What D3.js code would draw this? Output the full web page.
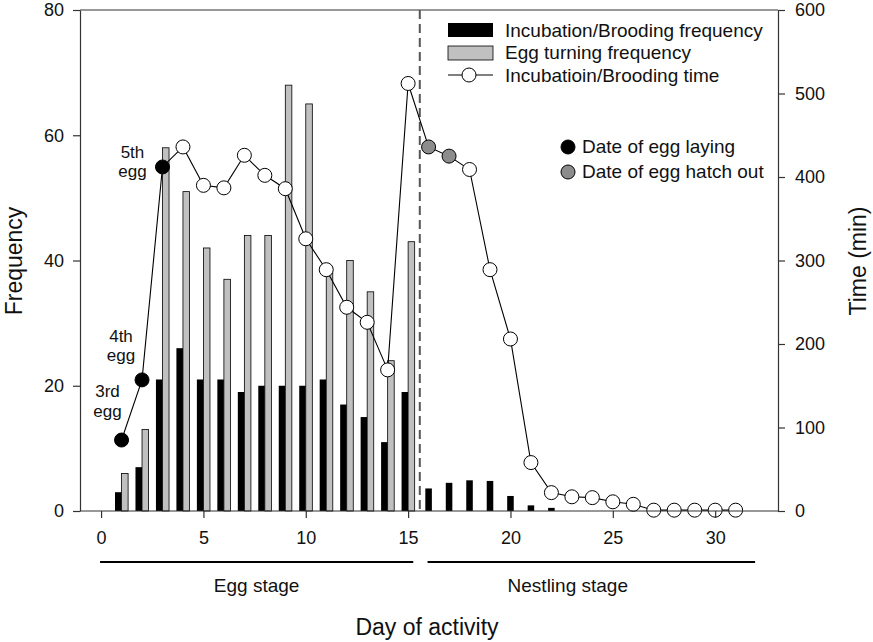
<!DOCTYPE html>
<html>
<head>
<meta charset="utf-8">
<script src="https://cdn.jsdelivr.net/npm/d3@7"></script>
<style>
  body { margin: 0; background: #fff; }
  text { font-family: "Liberation Sans", Arial, sans-serif; fill: #111; }
</style>
</head>
<body>
<svg id="chart" width="873" height="642"></svg>
<script>
// ---- Data ----
const days = [1,2,3,4,5,6,7,8,9,10,11,12,13,14,15,16,17,18,19,20,21,22,23,24,25,26,27,28,29,30,31];
const incubDays = [1,2,3,4,5,6,7,8,9,10,11,12,13,14,15,16,17,18,19,20,21,22];
const incubFreq = [3,7,21,26,21,21,19,20,20,20,21,17,15,11,19,3.6,4.5,4.9,4.8,2.4,0.9,0.5];
const turnDays = [1,2,3,4,5,6,7,8,9,10,11,12,13,14,15];
const turnFreq = [6,13,58,51,42,37,44,44,68,65,38,40,35,24,43];
const timeMin = [85,157,412,436,390,387,426,402,386,326,289,244,226,169,512,436,425,409,289,206,58,22,17,16,11,8,1,1,1,1,1];
const layingDays = [1,2,3];
const hatchDays = [16,17];
const xTicks = [0,5,10,15,20,25,30];
const yLeftTicks = [0,20,40,60,80];
const yRightTicks = [0,100,200,300,400,500,600];
const stageBoundary = 15.57;
const stages = [
  {label: "Egg stage", from: -0.05, to: 15.25, labelAt: 7.6},
  {label: "Nestling stage", from: 15.95, to: 31.95, labelAt: 22.8}
];
const eggNotes = [
  {day: 3, lines: ["5th", "egg"]},
  {day: 2, lines: ["4th", "egg"]},
  {day: 1, lines: ["3rd", "egg"]}
];

// ---- Layout ----
const svg = d3.select("#chart");
const L = 80, R = 778, T = 10, B = 511;
const x = d3.scaleLinear().domain([-1.03, 33.07]).range([L, R]);
const yL = d3.scaleLinear().domain([0, 80]).range([B, T]);
const yR = d3.scaleLinear().domain([0, 600]).range([B, T]);
const axisColor = "#333";
const barW = 0.32;

// frame top
svg.append("line").attr("x1", L).attr("x2", R).attr("y1", T).attr("y2", T)
  .attr("stroke", axisColor).attr("stroke-width", 1.2);

// bars
const turnSet = new Set(turnDays);
svg.append("g").selectAll("rect").data(incubDays.map((d, i) => ({d, v: incubFreq[i]})))
  .join("rect")
  .attr("x", p => turnSet.has(p.d) ? x(p.d - barW) : x(p.d - barW / 2))
  .attr("width", x(barW) - x(0))
  .attr("y", p => yL(p.v))
  .attr("height", p => B - yL(p.v))
  .attr("fill", "#000");

svg.append("g").selectAll("rect").data(turnDays.map((d, i) => ({d, v: turnFreq[i]})))
  .join("rect")
  .attr("x", p => x(p.d))
  .attr("width", x(barW) - x(0))
  .attr("y", p => yL(p.v))
  .attr("height", p => B - yL(p.v))
  .attr("fill", "#c0c0c0")
  .attr("stroke", "#000").attr("stroke-width", 0.8);

// dashed boundary
svg.append("line").attr("x1", x(stageBoundary)).attr("x2", x(stageBoundary))
  .attr("y1", T).attr("y2", B)
  .attr("stroke", "#555").attr("stroke-width", 2).attr("stroke-dasharray", "9,5");

// time line
const pts = days.map((d, i) => ({d, v: timeMin[i]}));
svg.append("path").datum(pts)
  .attr("d", d3.line().x(p => x(p.d)).y(p => yR(p.v)))
  .attr("fill", "none").attr("stroke", "#000").attr("stroke-width", 1.1);

const laySet = new Set(layingDays), hatchSet = new Set(hatchDays);
svg.append("g").selectAll("circle").data(pts).join("circle")
  .attr("cx", p => x(p.d)).attr("cy", p => yR(p.v)).attr("r", 7)
  .attr("fill", p => laySet.has(p.d) ? "#000" : hatchSet.has(p.d) ? "#8c8c8c" : "#fff")
  .attr("stroke", "#000").attr("stroke-width", 1);

// axes
const fs = 18;
const xAxis = svg.append("g").attr("transform", `translate(0,${B})`)
  .call(d3.axisBottom(x).tickValues(xTicks).tickSize(7).tickPadding(13).tickSizeOuter(0));
const yAxisL = svg.append("g").attr("transform", `translate(${L},0)`)
  .call(d3.axisLeft(yL).tickValues(yLeftTicks).tickSize(7).tickPadding(9).tickSizeOuter(0));
const yAxisR = svg.append("g").attr("transform", `translate(${R},0)`)
  .call(d3.axisRight(yR).tickValues(yRightTicks).tickSize(7).tickPadding(10).tickSizeOuter(0));
[xAxis, yAxisL, yAxisR].forEach(g => {
  g.select(".domain").attr("stroke", axisColor).attr("stroke-width", 1.2);
  g.selectAll(".tick line").attr("stroke", axisColor).attr("stroke-width", 1.2);
  g.selectAll(".tick text").attr("font-size", fs)
    .attr("font-family", '"Liberation Sans", Arial, sans-serif').attr("fill", "#111");
});
xAxis.select(".domain").attr("d", `M${L},0H${R}`);

// stage lines
stages.forEach(s => {
  svg.append("line").attr("x1", x(s.from)).attr("x2", x(s.to)).attr("y1", 562).attr("y2", 562)
    .attr("stroke", "#000").attr("stroke-width", 2.2);
  svg.append("text").attr("x", x(s.labelAt)).attr("y", 592)
    .attr("text-anchor", "middle").attr("font-size", 19).text(s.label);
});

// axis titles
svg.append("text").attr("x", 427).attr("y", 635).attr("text-anchor", "middle")
  .attr("font-size", 23).text("Day of activity");
svg.append("text").attr("transform", `translate(22,261) rotate(-90)`).attr("text-anchor", "middle")
  .attr("font-size", 23).text("Frequency");
svg.append("text").attr("transform", `translate(866,261) rotate(-90)`).attr("text-anchor", "middle")
  .attr("font-size", 23).text("Time (min)");

// egg annotations (each line its own text element)
const noteOffsets = {1: [-14, -43], 2: [-21, -38], 3: [-30, -9]};
eggNotes.forEach(n => {
  const v = timeMin[days.indexOf(n.day)];
  const [dx, dy] = noteOffsets[n.day];
  n.lines.forEach((ln, i) => {
    svg.append("text").attr("x", x(n.day) + dx).attr("y", yR(v) + dy + i * 19.5)
      .attr("text-anchor", "middle").attr("font-size", 17).text(ln);
  });
});

// legend 1
const lg = svg.append("g");
const lgx = 448, lgText = 505, lfs = 19;
lg.append("rect").attr("x", lgx).attr("y", 23).attr("width", 45).attr("height", 14).attr("fill", "#000");
lg.append("text").attr("x", lgText).attr("y", 37).attr("font-size", lfs).text("Incubation/Brooding frequency");
lg.append("rect").attr("x", lgx).attr("y", 46).attr("width", 45).attr("height", 14)
  .attr("fill", "#c0c0c0").attr("stroke", "#000").attr("stroke-width", 0.8);
lg.append("text").attr("x", lgText).attr("y", 59).attr("font-size", lfs).text("Egg turning frequency");
lg.append("line").attr("x1", lgx).attr("x2", lgx + 45).attr("y1", 75).attr("y2", 75).attr("stroke", "#000");
lg.append("circle").attr("cx", lgx + 21).attr("cy", 75).attr("r", 7).attr("fill", "#fff").attr("stroke", "#000");
lg.append("text").attr("x", lgText).attr("y", 82).attr("font-size", lfs).text("Incubatioin/Brooding time");

// legend 2
lg.append("circle").attr("cx", 568).attr("cy", 147).attr("r", 7).attr("fill", "#000").attr("stroke", "#000");
lg.append("text").attr("x", 582).attr("y", 153).attr("font-size", lfs).text("Date of egg laying");
lg.append("circle").attr("cx", 568).attr("cy", 172).attr("r", 7).attr("fill", "#8c8c8c").attr("stroke", "#000");
lg.append("text").attr("x", 582).attr("y", 178).attr("font-size", lfs).text("Date of egg hatch out");
</script>
</body>
</html>
